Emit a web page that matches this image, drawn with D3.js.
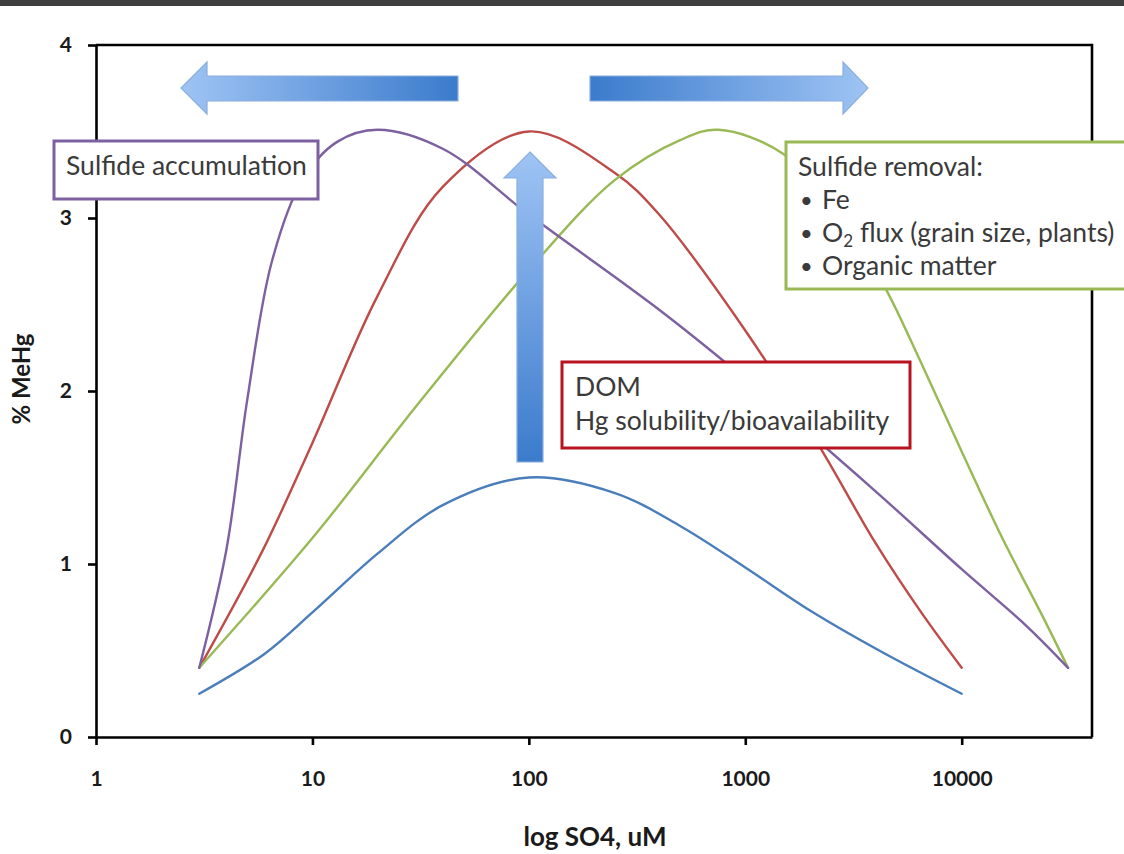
<!DOCTYPE html>
<html>
<head>
<meta charset="utf-8">
<script src="https://cdn.jsdelivr.net/npm/d3@7"></script>
<style>
  html, body { margin: 0; padding: 0; background: #ffffff; }
  svg { display: block; }
  text { font-family: Lato, "Open Sans", sans-serif; }
</style>
</head>
<body>
<svg id="chart" width="1124" height="854"></svg>
<script>
// ---- data: %MeHg versus sulfate (uM), four conceptual response curves ----
const xTicks = [1, 10, 100, 1000, 10000];
const yTicks = [0, 1, 2, 3, 4];

const blueX = [3, 6, 10, 20, 40, 100, 250, 500, 1000, 2000, 4300, 10000];
const blueY = [0.25, 0.48, 0.72, 1.06, 1.34, 1.50, 1.41, 1.22, 0.98, 0.73, 0.49, 0.25];

const redX = [3, 5.9, 10, 20, 40, 100, 250, 400, 1000, 2200, 4000, 6500, 10000];
const redY = [0.40, 1.08, 1.70, 2.55, 3.18, 3.50, 3.26, 3.02, 2.35, 1.68, 1.12, 0.72, 0.40];

const greenX = [3, 10, 31, 100, 250, 500, 750, 1500, 3000, 4500, 6400, 10000, 15400, 23600, 31000];
const greenY = [0.40, 1.15, 1.93, 2.70, 3.22, 3.45, 3.51, 3.37, 2.95, 2.58, 2.18, 1.65, 1.15, 0.70, 0.40];

const purpleX = [3, 4, 5, 6.5, 9, 13, 20, 40, 100, 400, 1000, 4000, 10000, 20000, 31000];
const purpleY = [0.40, 1.08, 1.95, 2.75, 3.22, 3.44, 3.51, 3.40, 3.02, 2.47, 2.07, 1.42, 0.97, 0.64, 0.40];

const seriesNames = ["blue", "red", "green", "purple"];
const seriesColors = ["#4a7ebb", "#be4b48", "#98b954", "#7d60a0"];

const xTitle = "log SO4, uM";
const yTitle = "% MeHg";

// ---- layout ----
const svg = d3.select("#chart");
const W = 1124, H = 854;
const plot = { left: 96, right: 1092, top: 45, bottom: 737 };

svg.append("rect").attr("width", W).attr("height", H).attr("fill", "#ffffff");
// dark strip along the top edge
svg.append("rect").attr("x", 0).attr("y", 0).attr("width", W).attr("height", 6).attr("fill", "#3f3f3f");

const x = d3.scaleLog().domain([1, 40000]).range([plot.left, plot.right]);
const y = d3.scaleLinear().domain([0, 4]).range([plot.bottom, plot.top]);

// ---- curves (smoothed through the points) ----
const line = d3.line()
  .x(d => x(d[0]))
  .y(d => y(d[1]))
  .curve(d3.curveCatmullRom.alpha(0.5));

const seriesData = [
  d3.zip(blueX, blueY),
  d3.zip(redX, redY),
  d3.zip(greenX, greenY),
  d3.zip(purpleX, purpleY)
];

const gLines = svg.append("g");
seriesData.forEach((pts, i) => {
  gLines.append("path")
    .attr("class", "series-" + seriesNames[i])
    .attr("d", line(pts))
    .attr("fill", "none")
    .attr("stroke", seriesColors[i])
    .attr("stroke-width", 2.4)
    .attr("stroke-linejoin", "round")
    .attr("stroke-linecap", "round");
});

// ---- frame and axes ----
svg.append("path")
  .attr("d", `M${plot.left},${plot.top}H${plot.right}V${plot.bottom}`)
  .attr("fill", "none").attr("stroke", "#000").attr("stroke-width", 2.6);

const xAxis = d3.axisBottom(x).tickValues(xTicks).tickFormat(d3.format("d")).tickSize(8).tickSizeOuter(0).tickPadding(26);
const gx = svg.append("g").attr("transform", `translate(0,${plot.bottom})`).call(xAxis);

const yAxis = d3.axisLeft(y).tickValues(yTicks).tickFormat(d3.format("d")).tickSize(8).tickSizeOuter(0).tickPadding(16);
const gy = svg.append("g").attr("transform", `translate(${plot.left},0)`).call(yAxis);

[gx, gy].forEach(g => {
  g.select(".domain").attr("stroke", "#000").attr("stroke-width", 2.6);
  g.selectAll(".tick line").attr("stroke", "#000").attr("stroke-width", 2.6);
  g.selectAll(".tick text")
    .attr("fill", "#1a1a1a")
    .style("font-family", "Lato, sans-serif")
    .style("font-weight", "bold")
    .style("font-size", "21px");
});

svg.append("text")
  .attr("x", 595).attr("y", 846)
  .attr("text-anchor", "middle")
  .style("font-weight", "bold").style("font-size", "26px")
  .attr("fill", "#1a1a1a")
  .text(xTitle);

svg.append("text")
  .attr("transform", "translate(30,379) rotate(-90)")
  .attr("text-anchor", "middle")
  .style("font-weight", "bold").style("font-size", "24px")
  .attr("fill", "#1a1a1a")
  .text(yTitle);

// ---- block arrows ----
const defs = svg.append("defs");
function grad(id, x1, y1, x2, y2, c1, c2) {
  const g = defs.append("linearGradient").attr("id", id)
    .attr("gradientUnits", "userSpaceOnUse")
    .attr("x1", x1).attr("y1", y1).attr("x2", x2).attr("y2", y2);
  g.append("stop").attr("offset", 0).attr("stop-color", c1);
  g.append("stop").attr("offset", 1).attr("stop-color", c2);
}
const light = "#9fc4f4", dark = "#3b7bcc";
grad("gLeft", 181, 0, 458, 0, light, dark);
grad("gRight", 590, 0, 868, 0, dark, light);
grad("gUp", 0, 152, 0, 462, light, dark);

const blur = defs.append("filter").attr("id", "soft").attr("x", "-10%").attr("y", "-10%").attr("width", "120%").attr("height", "120%");
blur.append("feGaussianBlur").attr("stdDeviation", 0.6);

const arrows = svg.append("g").attr("filter", "url(#soft)");
arrows.append("path")
  .attr("d", "M181,88 L207,62 L207,76 L458,76 L458,101 L207,101 L207,114 Z")
  .attr("fill", "url(#gLeft)").attr("stroke", "#8aaede").attr("stroke-width", 1.2);
arrows.append("path")
  .attr("d", "M590,76 L843,76 L843,62 L868,88 L843,114 L843,101 L590,101 Z")
  .attr("fill", "url(#gRight)").attr("stroke", "#8aaede").attr("stroke-width", 1.2);
arrows.append("path")
  .attr("d", "M530,152 L556,178 L543,178 L543,462 L517,462 L517,178 L504,178 Z")
  .attr("fill", "url(#gUp)").attr("stroke", "#8aaede").attr("stroke-width", 1.2);

// ---- annotation boxes ----
const textColor = "#3a3a3a";
function box(x0, y0, w, h, stroke) {
  svg.append("rect")
    .attr("x", x0).attr("y", y0).attr("width", w).attr("height", h)
    .attr("fill", "#ffffff").attr("stroke", stroke).attr("stroke-width", 3);
}
function label(tx, ty, str, size) {
  return svg.append("text").attr("x", tx).attr("y", ty)
    .attr("fill", textColor).style("font-size", (size || 26.5) + "px").text(str);
}

box(54, 141, 264, 58, "#7d60a0");
label(66, 175, "Sulfide accumulation");

box(786, 142, 345, 147, "#98b954");
label(798, 176, "Sulfide removal:");
label(800, 208, "\u2022", 22);
label(822, 209, "Fe");
label(800, 241, "\u2022", 22);
const o2 = label(822, 242, "O");
o2.append("tspan").attr("dy", 5).style("font-size", "17px").text("2");
o2.append("tspan").attr("dy", -5).text(" flux (grain size, plants)");
label(800, 274, "\u2022", 22);
label(822, 275, "Organic matter");

box(562, 362, 348, 86, "#b8141f");
label(575, 396, "DOM");
label(575, 430, "Hg solubility/bioavailability");
</script>
</body>
</html>
